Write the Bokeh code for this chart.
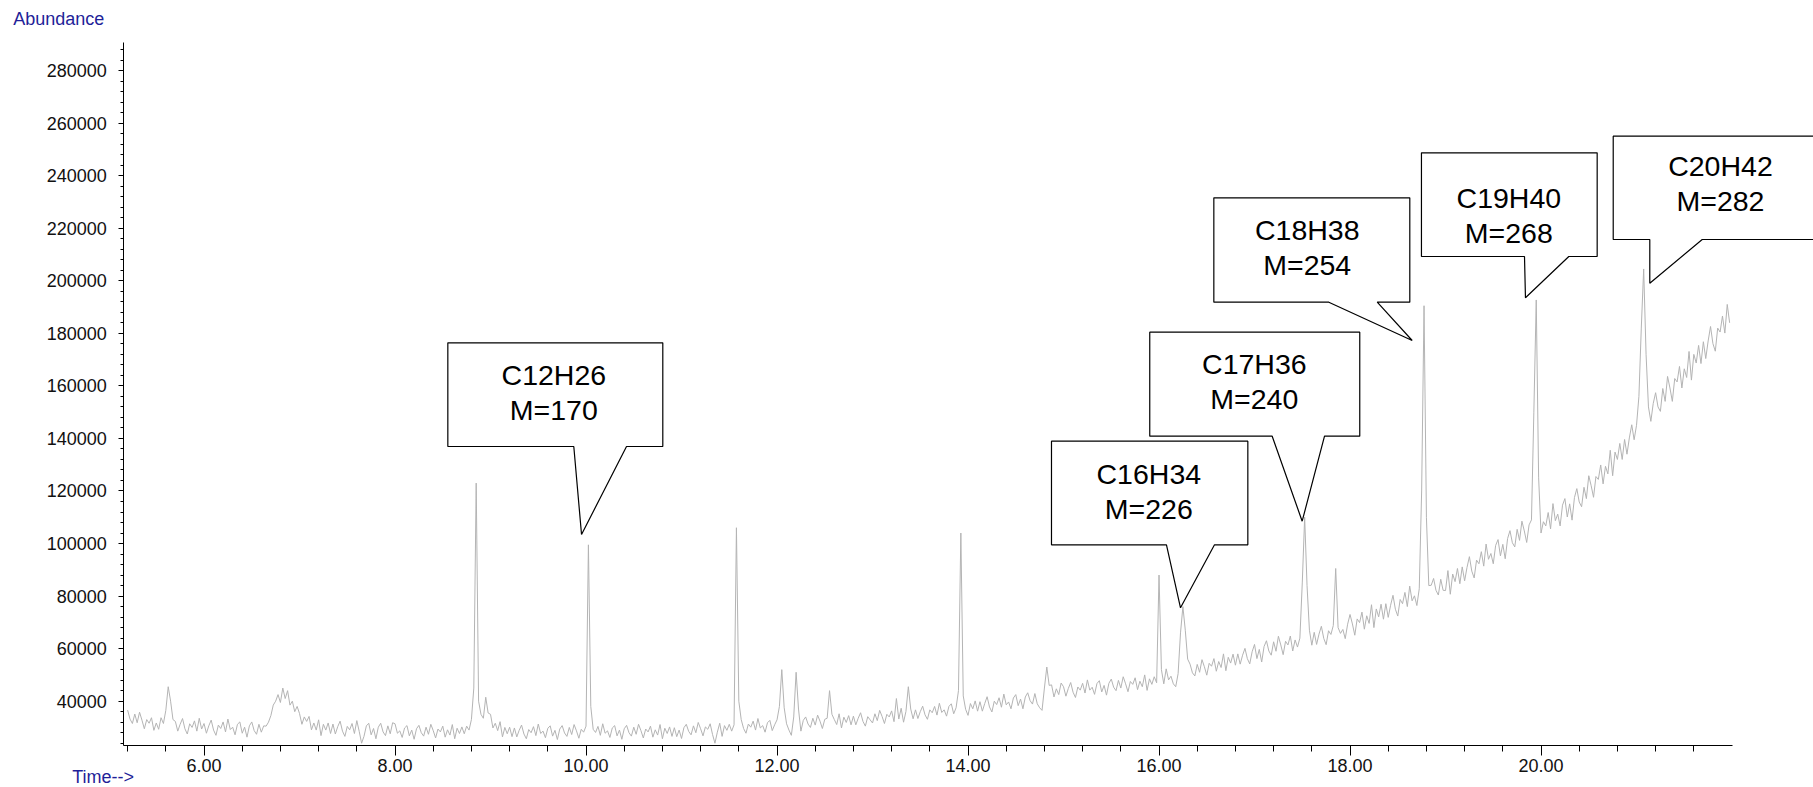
from bokeh.plotting import figure
from bokeh.models import Range1d, FixedTicker, NumeralTickFormatter, Label, ColumnDataSource
from bokeh.core.properties import value
from bokeh.embed import file_html
from bokeh.resources import INLINE

# ---------------- chromatogram trace ----------------
t_start = 5.2          # min, first sample
t_step = 0.025         # min, sampling interval
abundance_k = [        # abundance in thousands of counts
    # 5.200 - 5.975
    36.6, 33.2, 31.5, 35.1, 31.8, 35.8, 32.8, 29.5,
    33.0, 31.6, 33.7, 28.9, 31.7, 29.3, 33.7, 31.5,
    36.5, 45.5, 40.0, 33.0, 32.3, 28.6, 31.2, 33.4,
    29.5, 27.5, 31.4, 30.0, 32.5, 28.6, 33.5, 29.4,
    # 6.000 - 6.975
    31.5, 27.8, 30.6, 32.8, 29.0, 27.0, 30.9, 29.6,
    32.1, 28.3, 33.2, 29.2, 30.1, 27.2, 31.2, 32.1,
    27.8, 30.1, 26.3, 30.6, 32.1, 28.8, 27.4, 31.2,
    28.2, 30.6, 30.5, 32.0, 34.5, 38.5, 40.0, 42.5,
    39.5, 45.0, 41.0, 44.0, 38.5, 40.0, 36.0, 38.0,
    # 7.000 - 7.975
    35.3, 31.2, 34.0, 32.3, 34.2, 29.1, 31.7, 29.0,
    32.9, 26.9, 31.2, 29.0, 31.7, 27.7, 31.3, 27.5,
    30.3, 32.4, 28.6, 26.6, 30.4, 29.1, 31.5, 27.7,
    32.6, 28.5, 24.0, 26.6, 30.6, 31.6, 27.2, 29.6,
    25.7, 30.1, 31.6, 28.3, 26.9, 30.6, 27.6, 31.8,
    # 8.000 - 8.975
    31.4, 27.8, 28.7, 26.2, 29.8, 30.7, 26.8, 29.0,
    25.5, 29.5, 30.8, 28.0, 26.7, 30.1, 27.4, 31.2,
    28.8, 26.0, 29.4, 28.3, 30.5, 26.3, 29.1, 27.1,
    31.1, 25.7, 29.7, 27.7, 30.2, 27.6, 30.5, 29.0,
    33.0, 45.0, 123.0, 40.0, 35.0, 33.5, 41.5, 35.5,
    # 9.000 - 9.975
    35.0, 29.8, 31.6, 28.8, 32.2, 26.4, 30.0, 27.6,
    30.1, 26.5, 29.8, 26.4, 28.9, 30.9, 27.5, 25.7,
    29.2, 28.0, 30.3, 26.9, 31.3, 27.7, 28.6, 26.1,
    29.7, 30.6, 26.7, 28.9, 25.4, 29.4, 30.7, 27.9,
    26.6, 30.0, 27.3, 31.1, 28.7, 25.9, 29.3, 28.2,
    # 10.000 - 10.975
    30.5, 99.5, 38.0, 29.3, 28.1, 30.4, 27.0, 31.4,
    27.8, 28.7, 26.2, 29.8, 30.7, 26.8, 29.0, 25.5,
    29.5, 30.8, 28.0, 26.7, 30.1, 27.4, 31.2, 28.8,
    26.0, 29.4, 28.3, 30.5, 26.3, 29.1, 27.1, 31.1,
    25.7, 29.7, 27.7, 30.2, 26.6, 29.9, 26.5, 29.0,
    # 11.000 - 11.975
    25.8, 29.9, 31.2, 28.5, 27.2, 30.6, 28.0, 31.9,
    29.5, 26.8, 30.2, 29.3, 31.4, 27.3, 24.0, 28.2,
    31.6, 26.6, 30.7, 28.9, 31.2, 28.6, 31.0, 106.0,
    40.0, 33.0, 29.6, 27.8, 31.3, 30.1, 32.4, 29.0,
    33.4, 29.8, 30.7, 28.2, 31.8, 32.7, 28.8, 31.0,
    # 12.000 - 12.975
    32.9, 38.0, 52.0, 37.5, 31.4, 29.0, 27.0, 34.0,
    51.0, 37.0, 28.6, 32.7, 34.0, 31.3, 30.0, 33.5,
    30.9, 34.7, 32.4, 29.6, 33.1, 33.5, 44.0, 35.0,
    33.0, 31.1, 35.2, 29.8, 33.9, 31.9, 34.5, 31.0,
    34.3, 31.0, 33.5, 35.6, 32.3, 30.5, 34.1, 32.9,
    # 13.000 - 13.975
    31.7, 35.2, 32.6, 36.5, 34.2, 31.5, 35.0, 34.0,
    36.3, 32.2, 41.0, 33.2, 37.3, 32.0, 36.1, 45.5,
    37.0, 33.3, 36.7, 33.4, 36.0, 38.1, 34.8, 33.1,
    36.7, 35.6, 38.0, 34.7, 39.2, 35.7, 36.7, 34.3,
    38.0, 39.0, 35.2, 37.5, 44.0, 104.0, 42.0, 36.9,
    # 14.000 - 14.975
    34.6, 39.1, 37.1, 40.1, 36.2, 39.8, 36.2, 39.1,
    41.7, 37.8, 35.9, 40.0, 38.7, 41.3, 37.7, 42.7,
    38.6, 39.7, 37.1, 41.2, 42.5, 38.3, 40.8, 37.1,
    41.6, 43.2, 40.2, 38.9, 42.9, 39.0, 37.5, 36.5,
    45.0, 53.0, 46.0, 46.2, 41.6, 44.7, 42.5, 46.9,
    # 15.000 - 15.975
    45.5, 41.9, 44.8, 47.1, 43.4, 41.4, 45.4, 44.2,
    46.8, 43.1, 48.1, 44.2, 45.3, 42.6, 46.7, 47.8,
    43.5, 46.0, 42.3, 46.8, 48.4, 45.3, 44.0, 47.9,
    45.0, 49.3, 46.6, 43.6, 47.5, 46.4, 48.9, 44.4,
    47.6, 45.5, 50.0, 44.1, 48.5, 46.4, 49.3, 47.0,
    # 16.000 - 16.975
    88.0, 52.0, 46.6, 52.3, 48.1, 49.5, 46.6, 45.5,
    50.5, 66.0, 76.0, 67.0, 56.0, 54.1, 50.8, 49.6,
    54.0, 51.0, 55.8, 53.1, 49.9, 54.4, 53.3, 56.2,
    51.4, 55.1, 52.8, 58.0, 51.6, 56.7, 54.5, 57.9,
    53.7, 58.0, 54.1, 57.5, 60.1, 56.2, 54.2, 58.8,
    # 17.000 - 17.975
    61.6, 56.2, 59.7, 54.9, 60.8, 63.0, 59.1, 57.5,
    62.6, 59.0, 64.7, 61.4, 57.7, 62.8, 61.4, 64.8,
    59.1, 63.3, 60.6, 64.0, 85.0, 110.0, 84.0, 67.0,
    61.3, 66.2, 61.6, 65.5, 68.5, 63.9, 61.5, 66.8,
    65.4, 68.8, 90.5, 68.0, 65.8, 67.3, 63.8, 69.3,
    # 18.000 - 18.975
    73.0, 69.4, 65.1, 71.3, 69.9, 73.9, 67.4, 72.5,
    69.6, 76.7, 68.0, 75.1, 72.1, 76.9, 71.2, 77.1,
    71.9, 76.5, 80.3, 75.0, 72.4, 78.7, 77.1, 81.4,
    76.0, 83.8, 78.2, 80.1, 76.4, 82.8, 120.0, 190.5,
    110.0, 84.0, 84.1, 86.7, 82.2, 80.4, 86.4, 82.2,
    # 19.000 - 19.975
    82.1, 89.7, 80.7, 88.4, 85.5, 90.5, 84.7, 91.1,
    85.8, 90.9, 95.0, 89.5, 86.9, 93.7, 92.3, 96.9,
    91.4, 99.8, 94.0, 96.2, 92.3, 99.3, 101.5, 95.3,
    99.7, 94.2, 101.9, 104.9, 100.3, 98.7, 105.4, 101.2,
    108.5, 104.8, 100.4, 107.1, 109.0, 150.0, 192.7, 125.0,
    # 20.000 - 20.975
    104.0, 108.3, 106.7, 111.8, 105.6, 115.2, 108.7, 111.2,
    106.7, 114.6, 117.1, 110.1, 115.1, 108.9, 117.5, 120.9,
    115.8, 114.0, 121.4, 117.1, 125.8, 122.0, 117.6, 125.5,
    124.4, 129.9, 122.7, 129.4, 126.5, 135.5, 125.8, 134.8,
    132.0, 138.1, 132.0, 139.6, 134.0, 140.2, 145.2, 139.5,
    # 21.000 - 21.975
    145.0, 156.0, 182.0, 204.5, 172.0, 152.0, 146.5, 153.3,
    157.4, 152.0, 150.3, 159.0, 154.1, 163.6, 159.2, 154.1,
    162.8, 161.5, 167.4, 159.2, 166.5, 163.2, 173.1, 162.2,
    172.0, 168.7, 175.4, 168.5, 176.8, 170.4, 177.1, 182.6,
    176.1, 173.2, 182.0, 180.5, 186.6, 180.1, 191.0, 184.0,
]
times = [round(t_start + i * t_step, 3) for i in range(len(abundance_k))]
abundance = [v * 1000 for v in abundance_k]

# ---------------- axes ----------------
x_axis_span = (5.16, 22.0)
y_axis_span = (23130, 290690)
x_major = [6, 8, 10, 12, 14, 16, 18, 20]
x_minor = [round(5.2 + 0.4 * k, 1) for k in range(42)]
y_major = list(range(40000, 280001, 20000))
y_minor = list(range(24000, 290001, 4000))

# ---------------- peak call-outs ----------------
formulas = ["C12H26", "C16H34", "C17H36", "C18H38", "C19H40", "C20H42"]
masses = [170, 226, 240, 254, 268, 282]
label_x = [9.663, 15.893, 16.998, 17.552, 19.663, 21.879]
label_y = [157330, 119650, 161480, 212780, 224920, 236990]
box_left = [8.553, 14.874, 15.903, 16.574, 18.748, 20.756]
box_right = [10.804, 16.930, 18.102, 18.626, 20.588, 23.0]
box_top = [176400, 138950, 180430, 231590, 248710, 255030]
box_bottom = [136930, 99520, 140850, 191850, 209240, 215710]
ptr_left = [9.872, 16.078, 17.185, 17.778, 19.827, 21.139]
ptr_right = [10.424, 16.581, 17.733, 18.285, 20.291, 21.688]
tip_x = [9.953, 16.225, 17.499, 18.651, 19.837, 21.139]
tip_y = [103440, 75540, 108500, 177270, 193530, 199080]

FONT = "Liberation Sans"
BLUE = "#1f1f99"

p = figure(width=1813, height=787,
           x_range=Range1d(3.8689, 22.8532), y_range=Range1d(7145, 306677),
           output_backend="svg", toolbar_location=None,
           min_border_left=0, min_border_right=0,
           min_border_top=0, min_border_bottom=0)
p.grid.visible = False
p.outline_line_color = None
p.background_fill_color = "white"
p.border_fill_color = "white"

xa = p.xaxis[0]
xa.fixed_location = y_axis_span[0]
xa.ticker = FixedTicker(ticks=x_major, minor_ticks=x_minor)
xa.formatter = NumeralTickFormatter(format="0.00")
xa.bounds = x_axis_span
xa.major_tick_out = 10
xa.minor_tick_out = 6
xa.major_tick_in = 0
xa.minor_tick_in = 0
xa.major_label_standoff = 3
xa.major_label_text_font = FONT
xa.major_label_text_font_size = "18px"
xa.major_label_text_color = "#111111"
xa.axis_line_color = "black"
xa.major_tick_line_color = "black"
xa.minor_tick_line_color = "black"

ya = p.yaxis[0]
ya.fixed_location = x_axis_span[0]
ya.ticker = FixedTicker(ticks=y_major, minor_ticks=y_minor)
ya.formatter = NumeralTickFormatter(format="0")
ya.bounds = y_axis_span
ya.major_tick_out = 5
ya.minor_tick_out = 3
ya.major_tick_in = 0
ya.minor_tick_in = 0
ya.major_label_standoff = 12
ya.major_label_text_font = FONT
ya.major_label_text_font_size = "18px"
ya.major_label_text_color = "#111111"
ya.axis_line_color = "black"
ya.major_tick_line_color = "black"
ya.minor_tick_line_color = "black"

# trace
p.line(times, abundance, line_color="#b4b4b4", line_width=1)

# call-out balloons
xs, ys = [], []
for i in range(len(formulas)):
    l, r, t, b = box_left[i], box_right[i], box_top[i], box_bottom[i]
    xs.append([l, r, r, ptr_right[i], tip_x[i], ptr_left[i], l])
    ys.append([t, t, b, b, tip_y[i], b, b])
p.patches(xs, ys, fill_color="white", line_color="black", line_width=1.2)

src = ColumnDataSource(dict(x=label_x, y=label_y, formula=formulas,
                            mass=[f"M={m}" for m in masses]))
p.text(x="x", y="y", text="formula", source=src, y_offset=-17.5,
       text_align="center", text_baseline="middle",
       text_font=value(FONT), text_font_size=value("28.5px"), text_color="black")
p.text(x="x", y="y", text="mass", source=src, y_offset=17.5,
       text_align="center", text_baseline="middle",
       text_font=value(FONT), text_font_size=value("28.5px"), text_color="black")

p.add_layout(Label(x=4.002, y=299637, text="Abundance", text_font=FONT,
                   text_font_size="18px", text_color=BLUE,
                   text_align="left", text_baseline="middle"))
p.add_layout(Label(x=4.62, y=11300, text="Time-->", text_font=FONT,
                   text_font_size="18px", text_color=BLUE,
                   text_align="left", text_baseline="middle"))

open("out.html", "w").write(file_html(p, INLINE))
